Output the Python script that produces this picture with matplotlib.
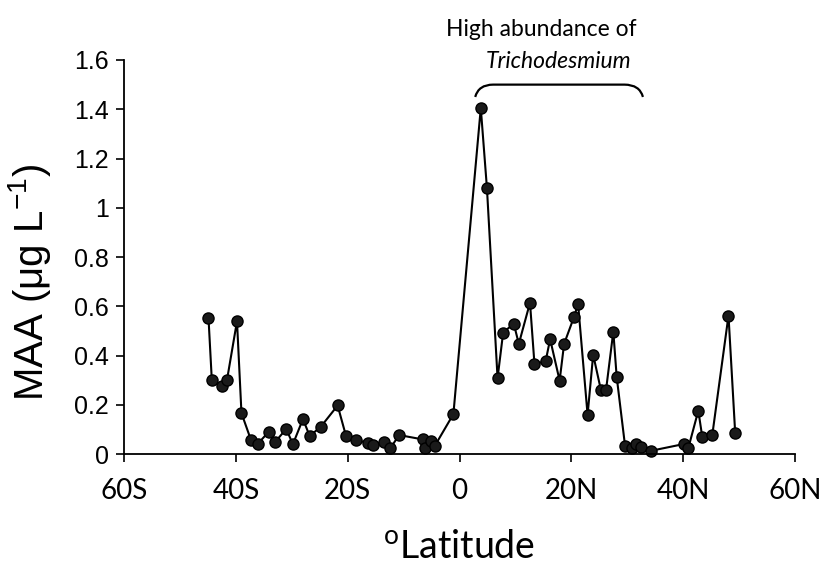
import matplotlib
matplotlib.use("Agg")
import matplotlib.pyplot as plt
from matplotlib.path import Path
from matplotlib.patches import PathPatch

# latitude (negative = south) and MAA concentration (ug/L)
lat = [-44.9, -44.3, -42.5, -41.6, -39.8, -39.0, -37.3, -36.1, -34.1, -33.0,
       -31.0, -29.8, -28.0, -26.8, -24.8, -21.8, -20.3, -18.5, -16.3, -15.4,
       -13.5, -12.4, -10.8, -6.5, -6.2, -5.1, -4.4, -1.1, 3.8, 4.9,
       6.8, 7.8, 9.7, 10.6, 12.6, 13.4, 15.4, 16.2, 17.9, 18.7,
       20.5, 21.2, 22.9, 23.9, 25.3, 26.2, 27.5, 28.1, 29.6, 30.8,
       31.5, 32.4, 34.2, 40.2, 40.9, 42.7, 43.4, 45.2, 48.1, 49.3]
maa = [0.555, 0.30, 0.278, 0.30, 0.54, 0.167, 0.058, 0.042, 0.092, 0.049,
       0.103, 0.041, 0.143, 0.074, 0.112, 0.198, 0.074, 0.058, 0.045, 0.038,
       0.05, 0.024, 0.078, 0.06, 0.025, 0.055, 0.035, 0.163, 1.405, 1.08,
       0.309, 0.494, 0.53, 0.448, 0.615, 0.366, 0.378, 0.467, 0.299, 0.448,
       0.559, 0.61, 0.16, 0.404, 0.259, 0.261, 0.498, 0.315, 0.034, 0.025,
       0.042, 0.03, 0.014, 0.042, 0.024, 0.177, 0.072, 0.078, 0.563, 0.085]

xticks = [-60, -40, -20, 0, 20, 40, 60]
xlabels = ["60S", "40S", "20S", "0", "20N", "40N", "60N"]
yticks = [0, 0.2, 0.4, 0.6, 0.8, 1.0, 1.2, 1.4, 1.6]
ylabels = ["0", "0.2", "0.4", "0.6", "0.8", "1", "1.2", "1.4", "1.6"]

fig = plt.figure(figsize=(8.22, 5.68), dpi=100)
ax = fig.add_axes([0.1509, 0.2002, 0.8163, 0.6942])

ax.plot(lat, maa, color="black", lw=1.5, marker="o", ms=8,
        markerfacecolor="#1a1a1a", markeredgecolor="black", clip_on=False)

ax.set_xlim(-60, 60)
ax.set_ylim(0, 1.6)
ax.set_xticks(xticks)
ax.set_xticklabels(xlabels, fontsize=20, family="Lato")
ax.set_yticks(yticks)
ax.set_yticklabels(ylabels, fontsize=18, family="Liberation Sans")
ax.tick_params(direction="out", length=6, width=1.2, color="black")
ax.tick_params(axis="x", pad=11)
ax.tick_params(axis="y", pad=5)

for s in ["top", "right"]:
    ax.spines[s].set_visible(False)
for s in ["left", "bottom"]:
    ax.spines[s].set_linewidth(1.3)

ax.set_xlabel(r"$\mathregular{^{o}}$Latitude", fontsize=27, family="Lato", labelpad=18)
ax.set_ylabel(r"MAA ($\mathregular{\mu}$g L$\mathregular{^{-1}}$)", fontsize=29,
              family="Liberation Sans")
ax.yaxis.set_label_coords(-0.106, 0.437)

# bracket and annotation for Trichodesmium region
verts = [(2.8, 1.45), (3.4, 1.50), (6.0, 1.50), (29.5, 1.50), (32.2, 1.50), (32.8, 1.45)]
codes = [Path.MOVETO, Path.CURVE3, Path.CURVE3, Path.LINETO, Path.CURVE3, Path.CURVE3]
ax.add_patch(PathPatch(Path(verts, codes), fill=False, lw=1.6, color="black", clip_on=False))
ax.text(14.7, 1.725, "High abundance of", ha="center", va="center", fontsize=16.5, family="Lato")
ax.text(17.7, 1.595, "Trichodesmium", ha="center", va="center", fontsize=16.5,
        family="Lato", style="italic")

fig.savefig("out.png", dpi=100)
